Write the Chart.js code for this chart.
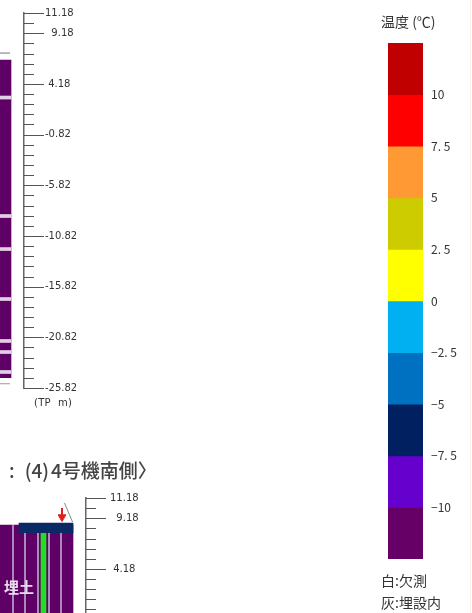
<!DOCTYPE html>
<html>
<head>
<meta charset="utf-8">
<script src="https://cdn.jsdelivr.net/npm/chart.js@4"></script>
<style>
html,body{margin:0;padding:0;background:#fff;width:472px;height:613px;overflow:hidden}
canvas{position:absolute}
.txt{position:absolute;white-space:pre;color:#333;font-family:"Noto Sans CJK JP",sans-serif}
</style>
</head>
<body>
<canvas id="seccionArriba" style="left:0;top:0"></canvas>
<canvas id="seccionAbajo" style="left:0;top:485px"></canvas>
<canvas id="escala" style="left:388px;top:0"></canvas>

<div class="txt" style="left:34px;top:397px;font:10px 'DejaVu Sans';letter-spacing:.3px">(TP  m)</div>
<div class="txt" style="left:9px;top:456px;font-size:19px;line-height:28px;font-weight:500;color:#444">:<span style="margin-left:10px">(4)</span><span style="margin-left:2px">4号機南側〉</span></div>
<div class="txt" style="left:4px;top:576px;font-size:15px;line-height:22px;font-weight:700;color:#e8dcec">埋土</div>
<div class="txt" style="left:381px;top:12px;font-size:14px;line-height:18px">温度 (℃)</div>
<div class="txt" style="left:381px;top:571px;font-size:14px;line-height:18px">白:欠測</div>
<div class="txt" style="left:381px;top:593px;font-size:14px;line-height:18px">灰:埋設内</div>
<div style="position:absolute;left:470px;top:0;width:1px;height:613px;background:#fdeee8"></div>

<script>
// elevation axis (TP m)
const majorTicks=[11.18,9.18,4.18,-0.82,-5.82,-10.82,-15.82,-20.82,-25.82];
const majorLabels=['11.18','  9.18',' 4.18','-0.82','-5.82','-10.82','-15.82','-20.82','-25.82'];
const minorTicks=[10.18,8.18,7.18,6.18,5.18,3.18,2.18,1.18,0.18,-1.82,-2.82,-3.82,-4.82,-6.82,-7.82,-8.82,-9.82,
  -11.82,-12.82,-13.82,-14.82,-16.82,-17.82,-18.82,-19.82,-21.82,-22.82,-23.82,-24.82];

// upper section, only its right edge is in the picture
const stripCenter=[5.5];
const stripRange=[-24.8,6.54];
const stripTopLine=7.23;
const stripBottomLine=-25.4;
const stripeRanges=[[2.69,2.99],[-9,-8.7],[-12.26,-11.96],[-17.19,-16.89],[-21.33,-21.03],[-22.42,-22.12],[-24.39,-24.09]];

// lower section
const fillCenter=[36.5];
const fillRange=[-26,8.52];
const capCenter=[46];
const capRange=[7.76,8.71];
const pipeCenter=[43.5];
const pipeRange=[-26,8.6];
const columnLines=[13,25,38,49,61];
const columnLineTop=8.52;
const arrowX=[62];
const arrowRange=[10.19,9.3];
const slopeX=[64.5,72.5];
const slopeY=[10.69,8.81];

// temperature scale
const bandLows=[10,7.5,5,2.5,0,-2.5,-5,-7.5,-10,-12.5];
const bandColors=['#c00000','#ff0000','#ff9933','#cccc00','#ffff00','#00b0f0','#0070c0','#002060','#6600cc','#660066'];
const scaleTicks=[10,7.5,5,2.5,0,-2.5,-5,-7.5,-10];
const scaleLabels=['10','7. 5','5','2. 5','0','−2. 5','−5','−7. 5','−10'];

const PURPLE='#5f0066';
const STRIPE='#e2cfe4';

// tick marks of different length, same axis
const marcasEje={
  id:'marcasEje',
  afterDraw(chart){
    const y=chart.scales.y, ctx=chart.ctx;
    ctx.save();
    ctx.strokeStyle='#555';
    ctx.lineWidth=1;
    const marca=(v,largo)=>{
      const py=Math.round(y.getPixelForValue(v))+0.5;
      if(isNaN(py)) return;
      ctx.beginPath();
      ctx.moveTo(y.left,py);
      ctx.lineTo(y.left+largo,py);
      ctx.stroke();
    };
    majorTicks.forEach(v=>marca(v,20));
    minorTicks.forEach(v=>marca(v,10));
    ctx.restore();
  }
};

function ejeY(ancho,pad){
  return {
    position:'right',
    min:-25.82,
    max:11.18,
    afterFit(s){ s.width=ancho; s.paddingTop=0; s.paddingBottom=0; },
    afterBuildTicks(s){ s.ticks=majorTicks.map(v=>({value:v})); },
    grid:{drawOnChartArea:false,drawTicks:false},
    border:{color:'#666',width:1.5},
    ticks:{
      autoSkip:false,
      padding:pad,
      color:'#333',
      font:{family:'DejaVu Sans',size:10},
      callback:(v,i)=>majorLabels[i]
    }
  };
}

function barra(x,rango,color,grueso){
  return {type:'bar',data:x.map(c=>({x:c,y:rango})),backgroundColor:color,barThickness:grueso,grouped:false};
}
function linea(xs,ys,color,ancho){
  return {type:'line',data:xs.map((c,i)=>({x:c,y:ys[i]})),borderColor:color,borderWidth:ancho,pointRadius:0,tension:0};
}

function seccion(id,w,h,padTop,padBottom,xMax,pad,datasets){
  const cv=document.getElementById(id);
  cv.width=w;cv.height=h;
  cv.style.width=w+'px';cv.style.height=h+'px';
  return new Chart(cv,{
    data:{datasets},
    plugins:[marcasEje],
    options:{
      responsive:false,
      animation:false,
      devicePixelRatio:1,
      layout:{autoPadding:false,padding:{top:padTop,bottom:padBottom,left:0,right:0}},
      plugins:{legend:{display:false},tooltip:{enabled:false}},
      scales:{
        x:{type:'linear',min:0,max:xMax,display:false,offset:false},
        y:ejeY(w-xMax,pad)
      }
    }
  });
}

const arriba=[
  linea([0,10],[stripTopLine,stripTopLine],'#777',1),
  linea([0,10],[stripBottomLine,stripBottomLine],'#999',1),
  ...stripeRanges.map(r=>barra(stripCenter,r,STRIPE,11)),
  barra(stripCenter,stripRange,PURPLE,11)
];
seccion('seccionArriba',100,400,13,12,24,21,arriba);

const abajo=[
  linea(slopeX,slopeY,'#888',1),
  {type:'line',data:[{x:arrowX[0],y:arrowRange[1]}],pointStyle:'triangle',rotation:180,pointRadius:4.5,
    backgroundColor:'#e02020',borderColor:'#e02020',showLine:false},
  linea([arrowX[0],arrowX[0]],arrowRange,'#e02020',2),
  barra(capCenter,capRange,'#0a2a66',54),
  barra(pipeCenter,pipeRange,'#22dd22',5),
  ...columnLines.map(c=>linea([c,c],[columnLineTop,-26],'#b79cc4',1)),
  barra(fillCenter,fillRange,PURPLE,73)
];
seccion('seccionAbajo',140,400,13,12,86,24,abajo);

// temperature colour bar
const cvEscala=document.getElementById('escala');
cvEscala.width=84;cvEscala.height=613;
cvEscala.style.width='84px';cvEscala.style.height='613px';
new Chart(cvEscala,{
  type:'bar',
  data:{
    labels:['温度'],
    datasets:bandLows.map((lo,i)=>({
      data:[[lo,lo+2.5]],
      backgroundColor:bandColors[i],
      grouped:false,
      barPercentage:1,
      categoryPercentage:1
    }))
  },
  options:{
    responsive:false,
    animation:false,
    devicePixelRatio:1,
    layout:{padding:{top:43,bottom:54,left:0,right:0}},
    plugins:{legend:{display:false},tooltip:{enabled:false}},
    scales:{
      x:{display:false},
      y:{
        position:'right',
        min:-12.5,
        max:12.5,
        afterFit(s){ s.width=49; },
        afterBuildTicks(s){ s.ticks=scaleTicks.map(v=>({value:v})); },
        grid:{display:false,drawTicks:false},
        border:{display:false},
        ticks:{
          autoSkip:false,
          padding:8,
          color:'#333',
          font:{family:'Noto Sans CJK JP',size:12},
          callback:(v,i)=>scaleLabels[i]
        }
      }
    }
  }
});
</script>
</body>
</html>
